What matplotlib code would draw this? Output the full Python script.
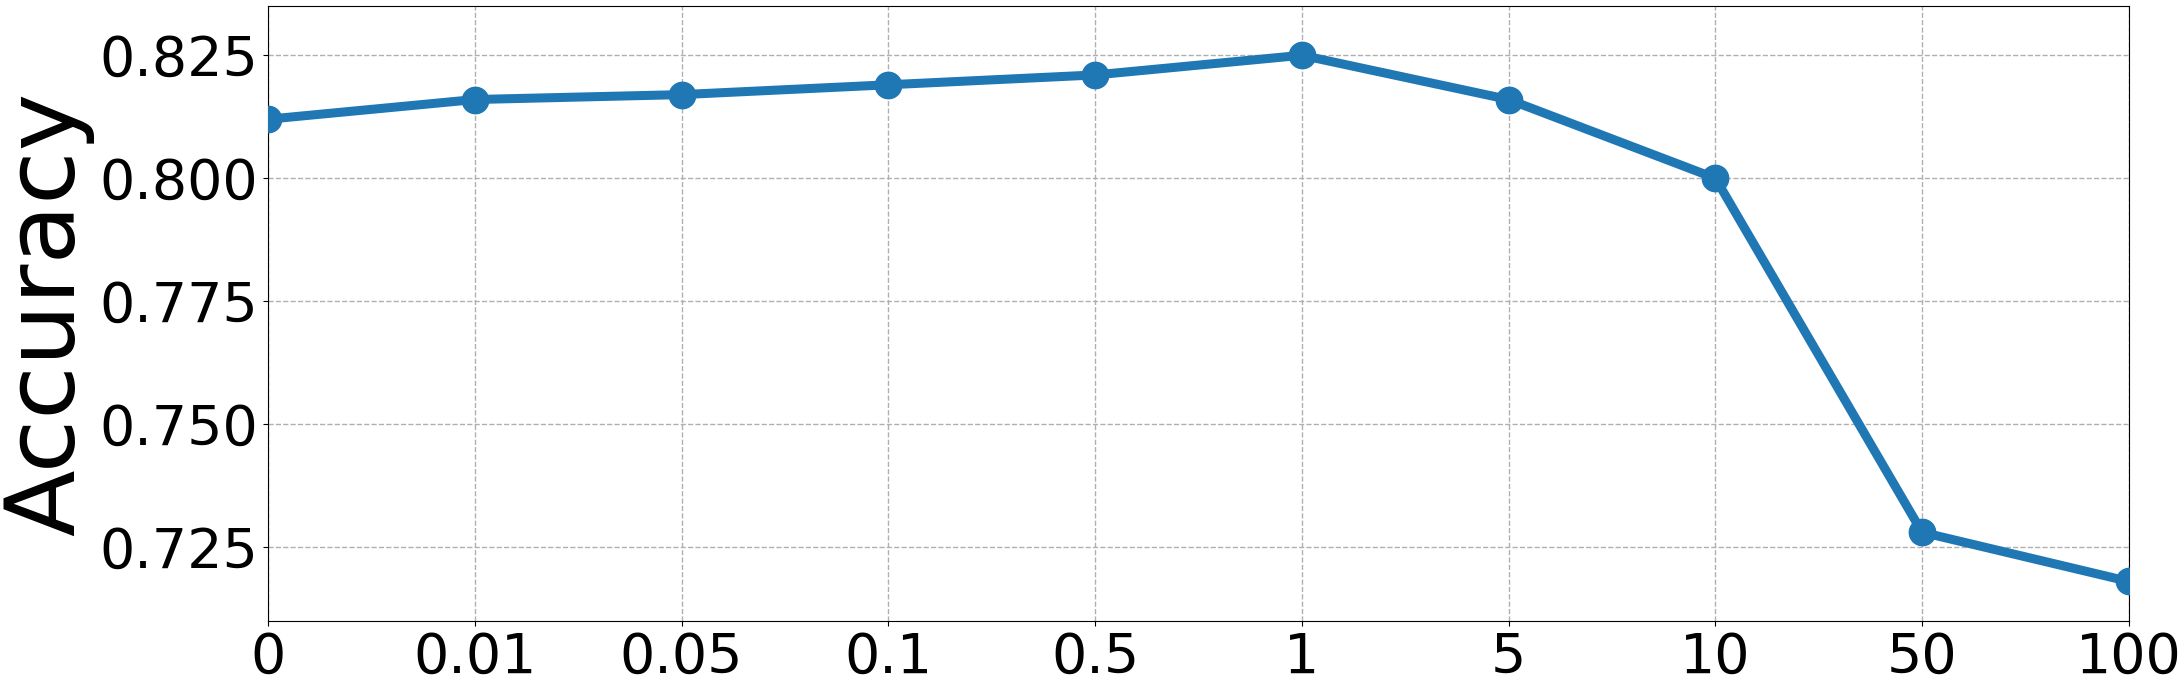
import matplotlib
matplotlib.use("Agg")
import matplotlib.pyplot as plt

labels = ["0", "0.01", "0.05", "0.1", "0.5", "1", "5", "10", "50", "100"]
accuracy = [0.812, 0.816, 0.817, 0.819, 0.821, 0.825, 0.816, 0.800, 0.728, 0.718]

fig, ax = plt.subplots(figsize=(21.79, 6.77), dpi=100)
x = range(len(labels))
ax.plot(x, accuracy, marker='o', linewidth=6.5, markersize=19, color='#1f77b4', zorder=3)

ax.set_xlim(0, len(labels) - 1)
ax.set_ylim(0.71, 0.835)
ax.set_xticks(list(x))
ax.set_xticklabels(labels)
ax.set_yticks([0.725, 0.750, 0.775, 0.800, 0.825])
ax.tick_params(axis='both', labelsize=40)
ax.set_ylabel("Accuracy", fontsize=70)
ax.grid(True, linestyle='--', color='#b0b0b0', linewidth=1)

plt.subplots_adjust(left=0.123, right=0.977, top=0.991, bottom=0.083)
plt.savefig("out.png")
